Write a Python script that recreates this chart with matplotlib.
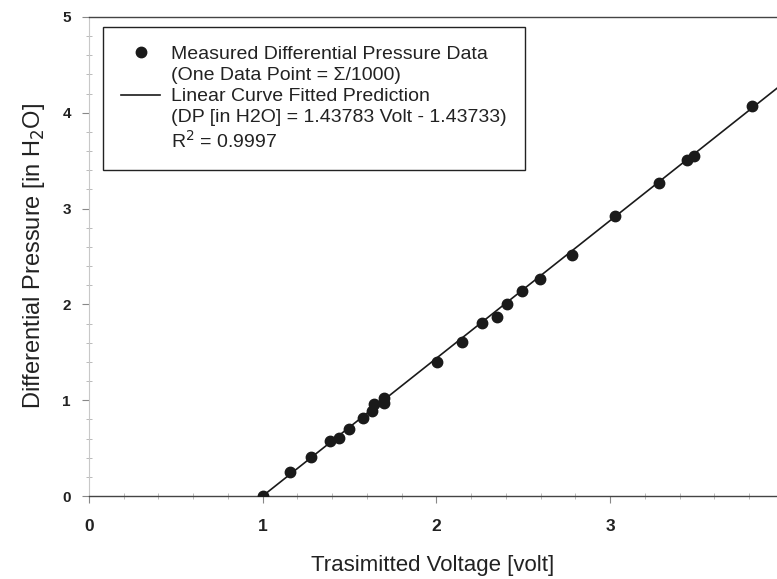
import numpy as np
import matplotlib
matplotlib.use("Agg")
from matplotlib import pyplot as plt
from matplotlib.lines import Line2D
from matplotlib.ticker import MultipleLocator

plt.rcParams['font.family'] = ['Liberation Sans', 'DejaVu Sans']

# measured transmitter voltage vs differential pressure
volt = [1.00, 1.157, 1.278, 1.387, 1.44, 1.497, 1.577, 1.63, 1.64, 1.70, 1.70,
        2.003, 2.145, 2.26, 2.347, 2.405, 2.49, 2.597, 2.78, 3.028, 3.278,
        3.44, 3.48, 3.815]
dp = [0.00, 0.25, 0.41, 0.57, 0.61, 0.70, 0.81, 0.89, 0.96, 0.97, 1.02,
      1.40, 1.61, 1.81, 1.87, 2.00, 2.135, 2.26, 2.52, 2.92, 3.27,
      3.505, 3.546, 4.07]

# fitted line DP = 1.43783 V - 1.43733
slope = 1.43783
intercept = -1.43733
fit_v = np.array([1.0, 4.2])
fit_dp = slope * fit_v + intercept

legend_lines = ['Measured Differential Pressure Data',
                '(One Data Point = \u03a3/1000)',
                'Linear Curve Fitted Prediction',
                '(DP [in H2O] = 1.43783 Volt - 1.43733)',
                'R$^2$ = 0.9997']

ink = '#1a1a1a'

fig = plt.figure(figsize=(7.77, 5.79), dpi=100)
ax = fig.add_axes([89/777, 83/579, 1 - 89/777, 479/579])

pts, = ax.plot(volt, dp, 'o', color=ink, markersize=7.5, zorder=3)
fit, = ax.plot(fit_v, fit_dp, '-', color=ink, linewidth=1.2)

ax.set_xlim(0, 3.96)
ax.set_ylim(0, 5)
ax.xaxis.set_major_locator(MultipleLocator(1))
ax.xaxis.set_minor_locator(MultipleLocator(0.2))
ax.yaxis.set_major_locator(MultipleLocator(1))
ax.yaxis.set_minor_locator(MultipleLocator(0.2))
ax.tick_params(which='major', direction='out', length=5, width=0.8, color='#888888',
               labelcolor='#222222')
ax.tick_params(which='minor', direction='inout', length=4, width=0.6, color='#b0b0b0')
ax.tick_params(axis='x', which='major', pad=11.5, labelsize=12.5)
ax.tick_params(axis='y', which='major', pad=8, labelsize=11)
for lbl in ax.get_xticklabels() + ax.get_yticklabels():
    lbl.set_fontweight('bold')

ax.spines['right'].set_visible(False)
ax.spines['top'].set_color('#444444')
ax.spines['top'].set_linewidth(1.0)
ax.spines['bottom'].set_color('#444444')
ax.spines['bottom'].set_linewidth(1.0)
ax.spines['left'].set_color('#c8c8c8')
ax.spines['left'].set_linewidth(0.8)

ax.set_xlabel('Trasimitted Voltage [volt]', fontsize=16, color='#222222', labelpad=15)
ax.set_ylabel('Differential Pressure [in H$_2$O]', fontsize=17, color='#222222', labelpad=11)

# one legend row per text line, handles only on the first line of each entry
blank = Line2D([], [], linestyle='none', marker='none')
handles = [pts, blank, fit, blank, blank]
leg = ax.legend(handles, legend_lines, loc='upper left', bbox_to_anchor=(0.0203, 0.979),
                borderaxespad=0, fontsize=14, frameon=True, fancybox=False, framealpha=1,
                handlelength=2.0, handletextpad=0.55, borderpad=0.95,
                labelspacing=0.18, numpoints=1)
leg.get_frame().set_edgecolor('#222222')
leg.get_frame().set_linewidth(1.0)
for t in leg.get_texts():
    t.set_color('#222222')

fig.savefig('out.png', dpi=100)
